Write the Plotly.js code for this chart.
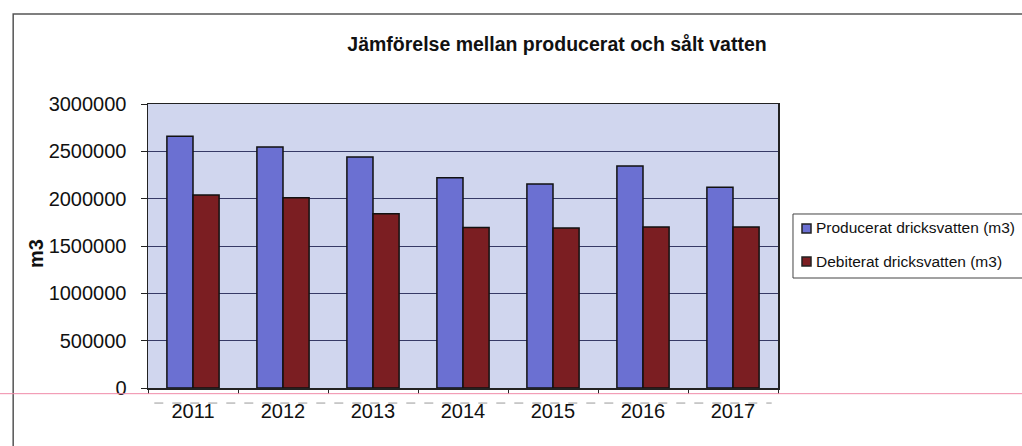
<!DOCTYPE html>
<html><head><meta charset="utf-8">
<script src="https://cdn.plot.ly/plotly-3.0.1.min.js"></script>
<style>html,body{margin:0;padding:0;background:#fff}#chart{width:1022px;height:446px}</style>
</head><body><div id="chart"></div>
<script>
const years = ['2011','2012','2013','2014','2015','2016','2017'];
const producerat = [2660000, 2545000, 2440000, 2220000, 2155000, 2345000, 2120000];
const debiterat = [2040000, 2010000, 1840000, 1695000, 1690000, 1700000, 1700000];
const yTicks = [0, 500000, 1000000, 1500000, 2000000, 2500000, 3000000];
const yTickText = ['0','500000','1000000','1500000','2000000','2500000','3000000'];
const seriesNames = ['Producerat dricksvatten (m3)', 'Debiterat dricksvatten (m3)'];
const seriesColors = ['#6b70d2', '#7b1e22'];

const traces = [
  {type:'bar', name:seriesNames[0], x:years, y:producerat,
   marker:{color:seriesColors[0], line:{color:'#111', width:1.5}}},
  {type:'bar', name:seriesNames[1], x:years, y:debiterat,
   marker:{color:seriesColors[1], line:{color:'#111', width:1.5}}}
];

// custom legend (box, swatches, labels) in paper coordinates
const legendShapes = [
  {type:'rect', xref:'paper', yref:'paper', x0:1.0238, x1:1.40, y0:0.3873, y1:0.6127,
   line:{color:'#444', width:1}, fillcolor:'#ffffff'},
  {type:'rect', xref:'paper', yref:'paper', x0:1.0381, x1:1.0524, y0:0.5458, y1:0.5775,
   line:{color:'#222', width:1.5}, fillcolor:seriesColors[0]},
  {type:'rect', xref:'paper', yref:'paper', x0:1.0381, x1:1.0524, y0:0.4296, y1:0.4613,
   line:{color:'#222', width:1.5}, fillcolor:seriesColors[1]}
];
const annots = [
  {xref:'paper', yref:'paper', x:1.0571, y:0.5634, xanchor:'left', yanchor:'middle', showarrow:false,
   text:seriesNames[0], font:{size:15.5, color:'#111'}},
  {xref:'paper', yref:'paper', x:1.0571, y:0.4437, xanchor:'left', yanchor:'middle', showarrow:false,
   text:seriesNames[1], font:{size:15.5, color:'#111'}},
  {xref:'paper', yref:'paper', x:-0.1778, y:0.475, xanchor:'center', yanchor:'middle', showarrow:false,
   textangle:-90, text:'<b>m3</b>', font:{size:20, color:'#111'}}
];

const layout = {
  width:1022, height:446,
  margin:{l:148, r:244, t:104, b:58},
  paper_bgcolor:'#ffffff', plot_bgcolor:'#d0d6ee',
  font:{family:'Liberation Sans, Arial, sans-serif', color:'#111', size:20},
  title:{text:'<b>Jämförelse mellan producerat och sålt vatten</b>', x:0.545, xanchor:'center', y:0.9, yanchor:'middle',
         font:{size:19.5, color:'#111'}},
  barmode:'group', bargap:0.42, bargroupgap:0,
  showlegend:false,
  xaxis:{type:'category', showline:true, linecolor:'#222', linewidth:1.5, mirror:true,
         ticks:'outside', ticklen:4, tickcolor:'#222', tickfont:{size:20},
         tickson:'boundaries', showgrid:false, ticklabelstandoff:4},
  yaxis:{range:[0,3000000], tickvals:yTicks, ticktext:yTickText, showline:true, linecolor:'#222', linewidth:1.5,
         mirror:true, ticks:'outside', ticklen:6, tickcolor:'#222', gridcolor:'#363a66', gridwidth:1,
         tickfont:{size:20}, zeroline:false, ticklabelstandoff:10},
  shapes:[
    {type:'rect', xref:'paper', yref:'paper', x0:-0.214, x1:1.40, y0:-0.25, y1:1.317,
     line:{color:'#555', width:1.5}, fillcolor:'rgba(0,0,0,0)', layer:'below'},
    {type:'line', xref:'paper', yref:'paper', x0:-0.24, x1:1.40, y0:-0.02, y1:-0.02,
     line:{color:'#f08aa8', width:1}},
    {type:'line', xref:'paper', yref:'paper', x0:0.01, x1:0.99, y0:-0.053, y1:-0.053,
     line:{color:'#9a9a9a', width:1, dash:'dash'}}
  ].concat(legendShapes),
  annotations:annots
};
Plotly.newPlot('chart', traces, layout, {displayModeBar:false, staticPlot:true});
</script></body></html>
